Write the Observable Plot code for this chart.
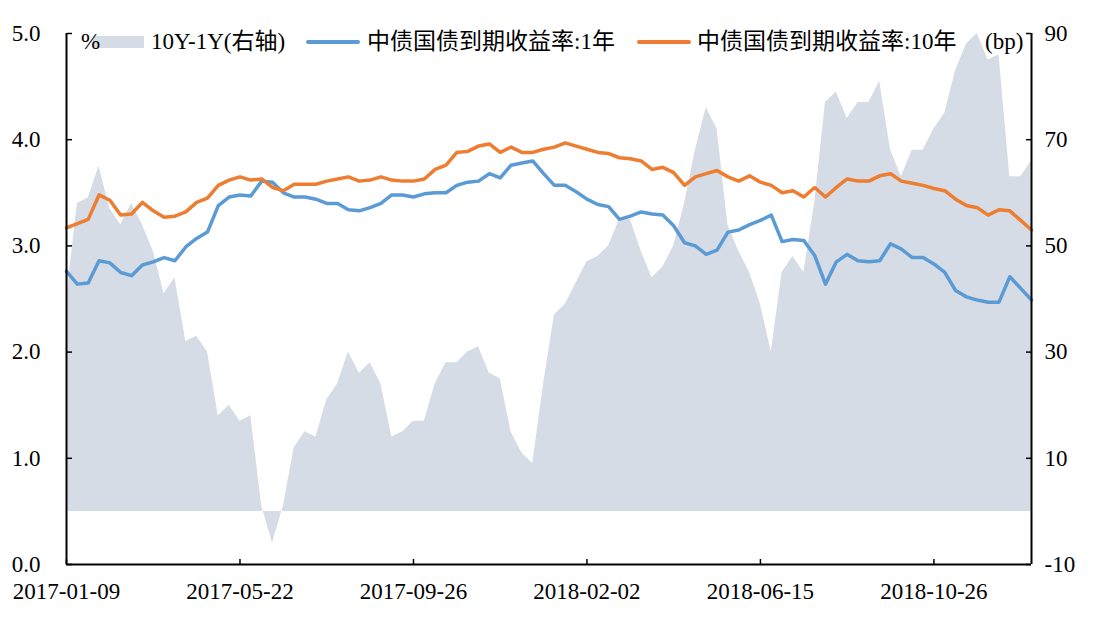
<!DOCTYPE html>
<html><head><meta charset="utf-8">
<script src="https://cdn.jsdelivr.net/npm/d3@7"></script>
<script src="https://cdn.jsdelivr.net/npm/@observablehq/plot@0.6"></script>
<style>
body{margin:0;background:#fff;}
#wrap{position:relative;width:1097px;height:617px;font-family:"Liberation Serif","Times New Roman","Noto Sans CJK SC",serif;}
.lg{position:absolute;font-size:23px;line-height:24px;height:24px;color:#000;white-space:nowrap;top:30px;}
.sw{position:absolute;}
</style></head><body><div id="wrap"></div>
<script>
// x-axis: sample positions (trading-day axis, ~5.5 trading days per sample), labelled dates
const dateTickLabels = ["2017-01-09","2017-05-22","2017-09-26","2018-02-02","2018-06-15","2018-10-26"];
const tickSampleIndex = [0,16,32,48,64,80];

// 中债国债到期收益率:1年 (%)
const yield1Y = [2.76,2.64,2.65,2.86,2.84,2.75,2.72,2.82,2.85,2.89,
  2.86,2.99,3.07,3.13,3.38,3.46,3.48,3.47,3.61,3.60,
  3.50,3.46,3.46,3.44,3.40,3.40,3.34,3.33,3.36,3.40,
  3.48,3.48,3.46,3.49,3.50,3.50,3.57,3.60,3.61,3.68,
  3.64,3.76,3.78,3.80,3.68,3.57,3.57,3.51,3.44,3.39,
  3.37,3.25,3.28,3.32,3.30,3.29,3.19,3.03,3.00,2.92,
  2.96,3.13,3.15,3.20,3.24,3.29,3.04,3.06,3.05,2.91,
  2.64,2.85,2.92,2.86,2.85,2.86,3.02,2.97,2.89,2.89,
  2.83,2.75,2.58,2.52,2.49,2.47,2.47,2.71,2.60,2.49];

// 中债国债到期收益率:10年 (%)
const yield10Y = [3.17,3.21,3.25,3.48,3.43,3.29,3.30,3.41,3.33,3.27,
  3.28,3.32,3.41,3.45,3.57,3.62,3.65,3.62,3.63,3.55,
  3.52,3.58,3.58,3.58,3.61,3.63,3.65,3.61,3.62,3.65,
  3.62,3.61,3.61,3.63,3.72,3.76,3.88,3.89,3.94,3.96,
  3.88,3.93,3.88,3.88,3.91,3.93,3.97,3.94,3.91,3.88,
  3.87,3.83,3.82,3.80,3.72,3.74,3.69,3.57,3.65,3.68,
  3.71,3.65,3.61,3.66,3.60,3.57,3.50,3.52,3.46,3.55,
  3.46,3.55,3.63,3.61,3.61,3.66,3.68,3.61,3.59,3.57,
  3.54,3.52,3.44,3.38,3.36,3.29,3.34,3.33,3.24,3.15];

// 10Y-1Y (bp, right axis)
const spread10Y1Y = [40,58,59,65,57,54,58,54,49,41,
  44,32,33,30,18,20,17,18,1,-6,
  1,12,15,14,21,24,30,26,28,24,
  14,15,17,17,24,28,28,30,31,26,
  25,15,11,9,24,37,39,43,47,48,
  50,55,55,49,44,46,50,58,68,76,
  72,54,49,45,39,30,45,48,45,58,
  77,79,74,77,77,81,68,63,68,68,
  72,75,83,88,90,85,86,63,63,66];

const leftTicks = [0,1,2,3,4,5];            // %
const rightTickLabels = [-10,10,30,50,70,90]; // bp

const rows = yield1Y.map((v,i)=>({i, y1:v, y10:yield10Y[i], sp:spread10Y1Y[i]}));
const bpMin = rightTickLabels[0], bpMax = rightTickLabels[rightTickLabels.length-1];
const pctMax = leftTicks[leftTicks.length-1];
const bpToPct = bp => (bp - bpMin) / (bpMax - bpMin) * pctMax;

const font = '"Liberation Serif","Times New Roman","Noto Sans CJK SC",serif';

const plot = Plot.plot({
  width:1097, height:617,
  marginLeft:66, marginRight:66, marginTop:33, marginBottom:53,
  style:{fontFamily:font, fontSize:"23px", color:"#000", background:"transparent", overflow:"visible"},
  x:{domain:[0, rows.length-1], label:null},
  y:{domain:[0, pctMax], label:null},
  marks:[
    Plot.areaY(rows,{x:"i", y1:bpToPct(0), y2:d=>bpToPct(d.sp), curve:"linear", fill:"#D6DCE5"}),
    Plot.lineY(rows,{x:"i", y:"y1", stroke:"#5B9BD5", strokeWidth:3.5, strokeLinejoin:"round"}),
    Plot.lineY(rows,{x:"i", y:"y10", stroke:"#ED7D31", strokeWidth:3.5, strokeLinejoin:"round"}),
    Plot.ruleX([0, rows.length-1], {stroke:"#000", strokeWidth:2}),
    Plot.ruleY([0], {stroke:"#000", strokeWidth:2}),
    Plot.axisY(leftTicks, {anchor:"left", tickSize:0, tickPadding:26, label:null, tickFormat:d=>d.toFixed(1)}),
    Plot.axisY(leftTicks, {anchor:"right", frameAnchor:"left", fill:"none", tickSize:5, strokeWidth:1.5, label:null}),
    Plot.axisY(leftTicks, {anchor:"right", tickSize:0, tickPadding:13, label:null, tickFormat:d=>String(rightTickLabels[leftTicks.indexOf(d)])}),
    Plot.axisY(leftTicks, {anchor:"left", frameAnchor:"right", fill:"none", tickSize:5, strokeWidth:1.5, label:null}),
    Plot.axisX(tickSampleIndex, {anchor:"bottom", tickSize:0, tickPadding:18, label:null, tickFormat:d=>dateTickLabels[tickSampleIndex.indexOf(d)]}),
    Plot.axisX(tickSampleIndex, {anchor:"top", frameAnchor:"bottom", fill:"none", tickSize:6, strokeWidth:1.5, label:null})
  ]
});
const wrap = document.getElementById("wrap");
wrap.appendChild(plot);

// legend overlay
const legend = [
  {type:"sw", left:93, top:36, w:51, h:12, color:"#D6DCE5"},
  {type:"tx", left:81, text:"%"},
  {type:"tx", left:151, text:"10Y-1Y(右轴)"},
  {type:"sw", left:306, top:40, w:54, h:4, color:"#5B9BD5"},
  {type:"tx", left:367, text:"中债国债到期收益率:1年"},
  {type:"sw", left:637, top:40, w:54, h:4, color:"#ED7D31"},
  {type:"tx", left:697, text:"中债国债到期收益率:10年"},
  {type:"tx", left:985, text:"(bp)"}
];
for (const l of legend) {
  const el = document.createElement("div");
  if (l.type === "sw") {
    el.className = "sw";
    Object.assign(el.style,{left:l.left+"px", top:l.top+"px", width:l.w+"px", height:l.h+"px", background:l.color, borderRadius: l.h<6 ? "2px" : "0"});
  } else {
    el.className = "lg";
    el.style.left = l.left+"px";
    el.textContent = l.text;
  }
  wrap.appendChild(el);
}
</script></body></html>
